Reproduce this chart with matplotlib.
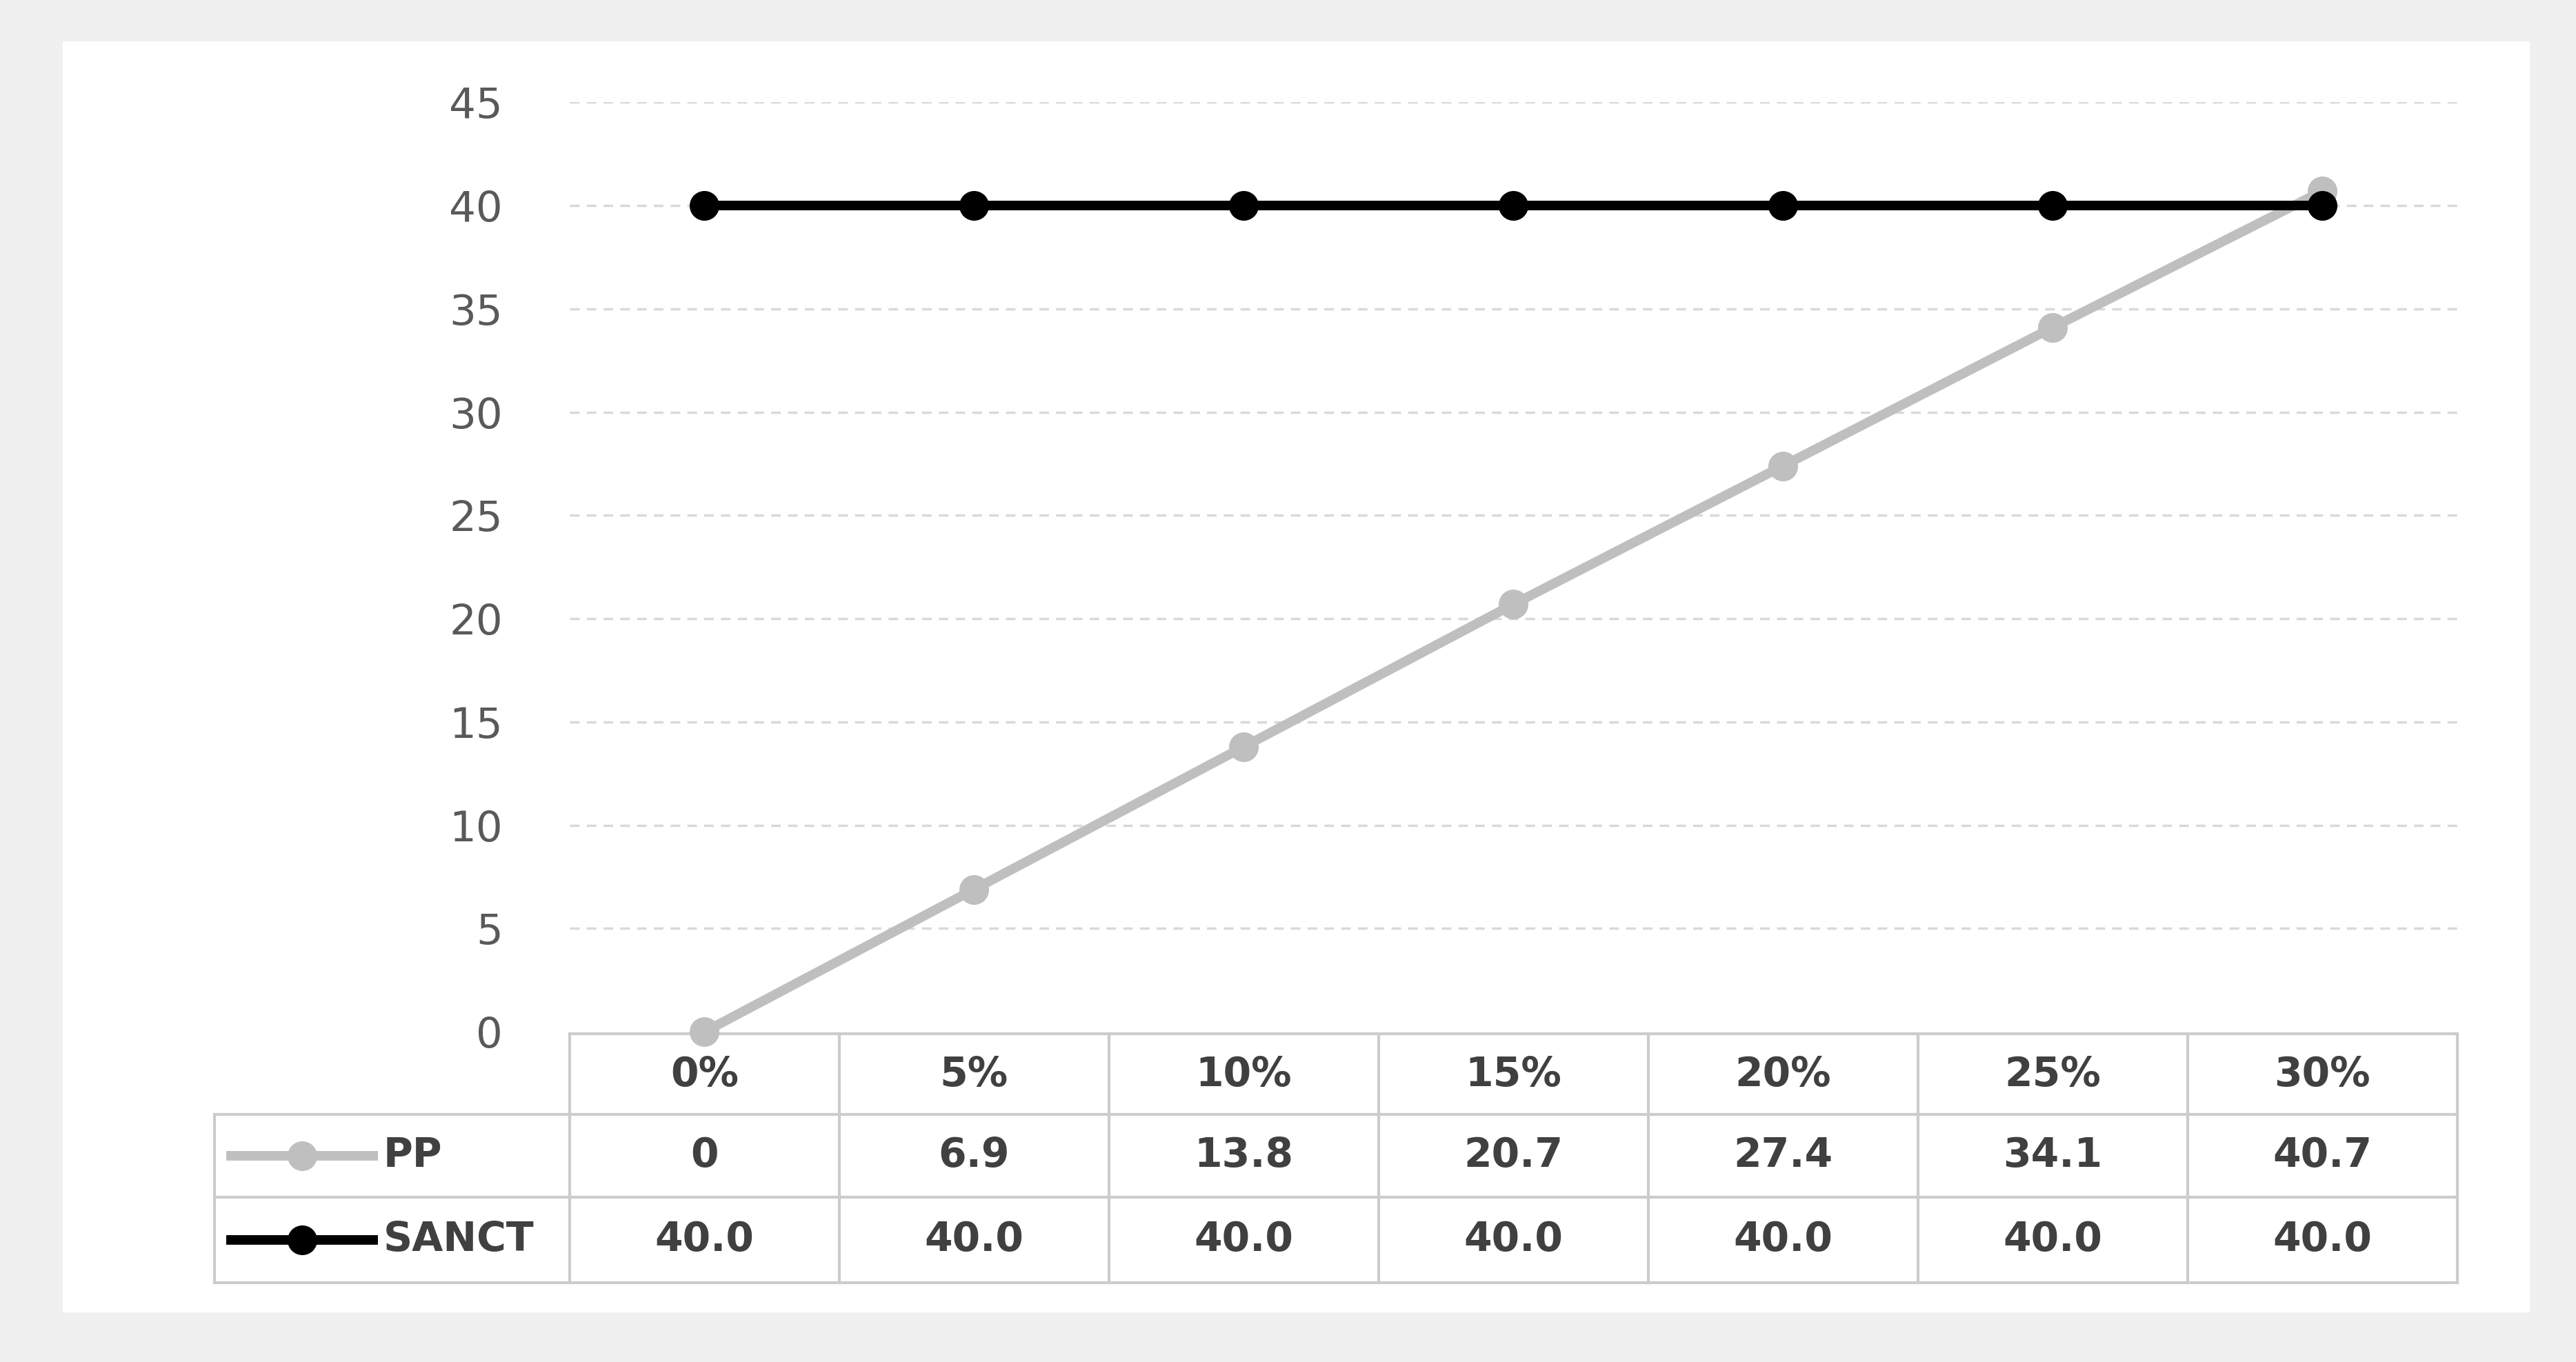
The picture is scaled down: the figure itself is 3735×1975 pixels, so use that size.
import matplotlib
matplotlib.use("Agg")
import matplotlib.pyplot as plt
from matplotlib.lines import Line2D
from matplotlib.patches import Rectangle
from matplotlib.transforms import blended_transform_factory

categories = ["0%", "5%", "10%", "15%", "20%", "25%", "30%"]
pp = [0, 6.9, 13.8, 20.7, 27.4, 34.1, 40.7]
sanct = [40.0, 40.0, 40.0, 40.0, 40.0, 40.0, 40.0]
pp_labels = ["0", "6.9", "13.8", "20.7", "27.4", "34.1", "40.7"]
sanct_labels = ["40.0"] * 7
yticks = [0, 5, 10, 15, 20, 25, 30, 35, 40, 45]

W, H = 1560.0, 825.0  # layout measured on the preview
fx = lambda x: x / W
fy = lambda y: 1 - y / H

fig = plt.figure(figsize=(37.35, 19.75), dpi=100, facecolor="#f0f0f0")
fig.patches.append(Rectangle((fx(38), fy(795)), fx(1532) - fx(38), fy(25) - fy(795),
                             transform=fig.transFigure, facecolor="white", edgecolor="none",
                             zorder=-10))

ax = fig.add_axes([fx(345), fy(625), fx(1488) - fx(345), fy(62) - fy(625)])
ax.set_zorder(5)
ax.set_facecolor("none")
x = list(range(len(categories)))
ax.plot(x, pp, color="#bfbfbf", lw=10, marker="o", ms=30, zorder=3, clip_on=False)
ax.plot(x, sanct, color="black", lw=10, marker="o", ms=30, zorder=4, clip_on=False)
ax.set_xlim(-0.5, 6.5)
ax.set_ylim(0, 45)
ax.set_yticks(yticks)
ax.set_xticks([])
for s in ax.spines.values():
    s.set_visible(False)
ax.tick_params(axis="y", length=0, labelsize=44, labelcolor="#595959", pad=70)
for v in yticks[1:]:
    ax.axhline(v, color="#d9d9d9", lw=2.5, ls=(0, (4, 3)), zorder=1)

# data table below the plot
lc = "#cccccc"
def hline(y, x0, x1):
    fig.add_artist(Line2D([fx(x0), fx(x1)], [fy(y), fy(y)], color=lc, lw=3))
def vline(xp, y0, y1):
    fig.add_artist(Line2D([fx(xp), fx(xp)], [fy(y0), fy(y1)], color=lc, lw=3))

cell = (1488 - 345) / 7
hline(626, 345, 1488)
hline(675, 130, 1488)
hline(725, 130, 1488)
hline(777, 130, 1488)
vline(130, 675, 777)
for k in range(8):
    vline(345 + k * cell, 626, 777)

tr = blended_transform_factory(ax.transData, fig.transFigure)
tk = dict(transform=tr, ha="center", va="center", fontsize=42, fontweight="bold", color="#404040")
for i, c in enumerate(categories):
    fig.text(i, fy(651), c, **tk)
    fig.text(i, fy(700), pp_labels[i], **tk)
    fig.text(i, fy(751), sanct_labels[i], **tk)

for yrow, col, name in [(700, "#bfbfbf", "PP"), (751, "black", "SANCT")]:
    fig.add_artist(Line2D([fx(140), fx(226)], [fy(yrow), fy(yrow)], color=col, lw=10))
    fig.add_artist(Line2D([fx(183)], [fy(yrow)], color=col, marker="o", ms=30))
    fig.text(fx(232), fy(yrow), name, ha="left", va="center", fontsize=42,
             fontweight="bold", color="#404040")

fig.savefig("out.png", dpi=100, facecolor=fig.get_facecolor())
